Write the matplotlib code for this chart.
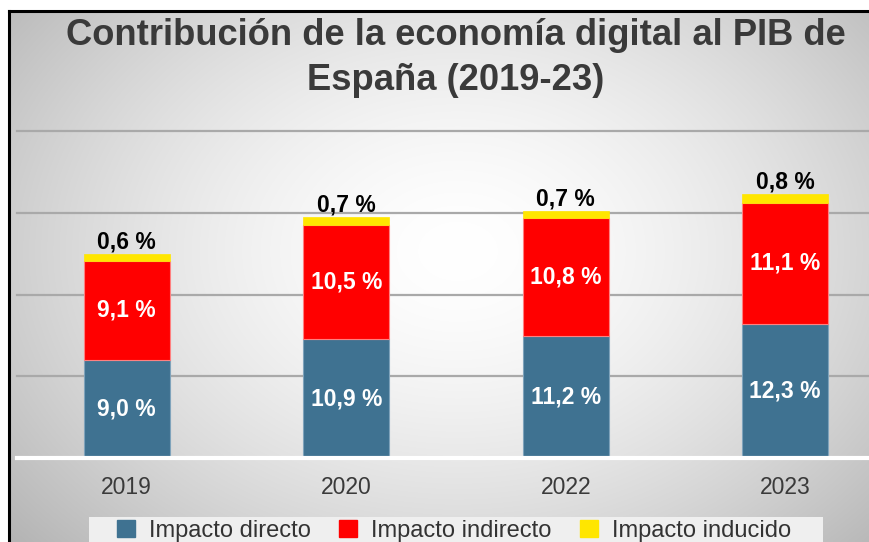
import numpy as np
import matplotlib
matplotlib.use("Agg")
import matplotlib.pyplot as plt
from matplotlib.patches import Patch, Rectangle
from matplotlib.lines import Line2D

years = ["2019", "2020", "2022", "2023"]
directo = [9.0, 10.9, 11.2, 12.3]
indirecto = [9.1, 10.5, 10.8, 11.1]
inducido = [0.6, 0.7, 0.7, 0.8]
series_names = ["Impacto directo", "Impacto indirecto", "Impacto inducido"]
title = "Contribución de la economía digital al PIB de\nEspaña (2019-23)"

def fmt(v):
    return f"{v:.1f}".replace(".", ",") + " %"

plt.rcParams['font.family'] = ['Liberation Sans', 'DejaVu Sans']

W, H = 870, 542
fig = plt.figure(figsize=(W / 100, H / 100), dpi=100, facecolor='white')

# background gradient
bg = fig.add_axes([10 / W, 0, 1 - 10 / W, 1 - 12 / H])
bg.set_axis_off()
ny, nx = 300, 480
yy, xx = np.mgrid[0:ny, 0:nx]
cx, cy = nx * 0.52, ny * 0.45
r = np.sqrt(((xx - cx) / (nx * 0.62)) ** 2 + ((yy - cy) / (ny * 0.75)) ** 2)
val = 1.0 - 0.25 * np.clip(r, 0, 1.2) ** 1.6
img = np.dstack([val, val, val])
bg.imshow(img, aspect='auto', extent=[0, 1, 0, 1], interpolation='bilinear')
bg.set_xlim(0, 1); bg.set_ylim(0, 1)

# border lines
fig.add_artist(Line2D([9 / W, 9 / W], [0, 1 - 11 / H], color='black', lw=2.2, transform=fig.transFigure))
fig.add_artist(Line2D([9 / W, 1], [1 - 11 / H, 1 - 11 / H], color='black', lw=2.2, transform=fig.transFigure))

# main axes
left = 17 / W
right = 895 / W
bottom = 1 - 458 / H
top = 1 - 131 / H
ax = fig.add_axes([left, bottom, right - left, top - bottom])
ax.patch.set_alpha(0)
for s in ax.spines.values():
    s.set_visible(False)
ax.set_xlim(-0.5, 3.5)
ax.set_ylim(0, 30)
ax.set_yticks([])
for g in [7.5, 15, 22.5, 30]:
    ax.axhline(g, color='#a9a9a9', lw=1.6, zorder=0, clip_on=False)
ax.axhline(0, color='white', lw=3, zorder=3, clip_on=False)

x = np.arange(len(years))
wbar = 0.39
c_blue = '#3f7291'
c_red = '#ff0000'
c_yel = '#ffe600'
ax.bar(x, directo, wbar, color=c_blue, edgecolor='#7fa3bb', lw=0.8, zorder=2)
ax.bar(x, indirecto, wbar, bottom=directo, color=c_red, edgecolor='#ff8080', lw=0.8, zorder=2)
bot3 = [a + b for a, b in zip(directo, indirecto)]
ax.bar(x, inducido, wbar, bottom=bot3, color=c_yel, edgecolor=c_yel, lw=0.5, zorder=2)

lab_fs = 16.5
for i in range(len(years)):
    ax.text(x[i], directo[i] / 2, fmt(directo[i]), ha='center', va='center',
            color='white', fontsize=lab_fs, fontweight='bold', zorder=4)
    ax.text(x[i], directo[i] + indirecto[i] / 2, fmt(indirecto[i]), ha='center', va='center',
            color='white', fontsize=lab_fs, fontweight='bold', zorder=4)
    ax.text(x[i], bot3[i] + inducido[i] + 0.05, fmt(inducido[i]), ha='center', va='bottom',
            color='black', fontsize=lab_fs, fontweight='bold', zorder=4)

ax.set_xticks(x)
ax.set_xticklabels(years, fontsize=16.5, color='#3a3a3a')
ax.tick_params(axis='x', length=0, pad=13)

lines = title.split("\n")
for ln, yb in zip(lines, [45, 90]):
    fig.text(456 / W, 1 - yb / H, ln, ha='center', va='baseline', fontsize=26.2,
             fontweight='bold', color='#3a3a3a')

# legend background strip
fig.add_artist(Rectangle((89 / W, 0), (823 - 89) / W, (542 - 517) / H, transform=fig.transFigure,
                         facecolor='#efefef', edgecolor='none', zorder=1))
handles = [Patch(facecolor=c, edgecolor=c) for c in (c_blue, c_red, c_yel)]
leg = fig.legend(handles, series_names, loc='upper center', bbox_to_anchor=(454 / W, 1 - 520 / H),
                 ncol=3, frameon=False, fontsize=17,
                 handlelength=0.76, handleheight=0.7, handletextpad=0.6,
                 columnspacing=1.19, borderpad=0, borderaxespad=0)
leg.set_zorder(2)
for t in leg.get_texts():
    t.set_color('#333333')

fig.savefig('out.png', dpi=100, facecolor='white')
